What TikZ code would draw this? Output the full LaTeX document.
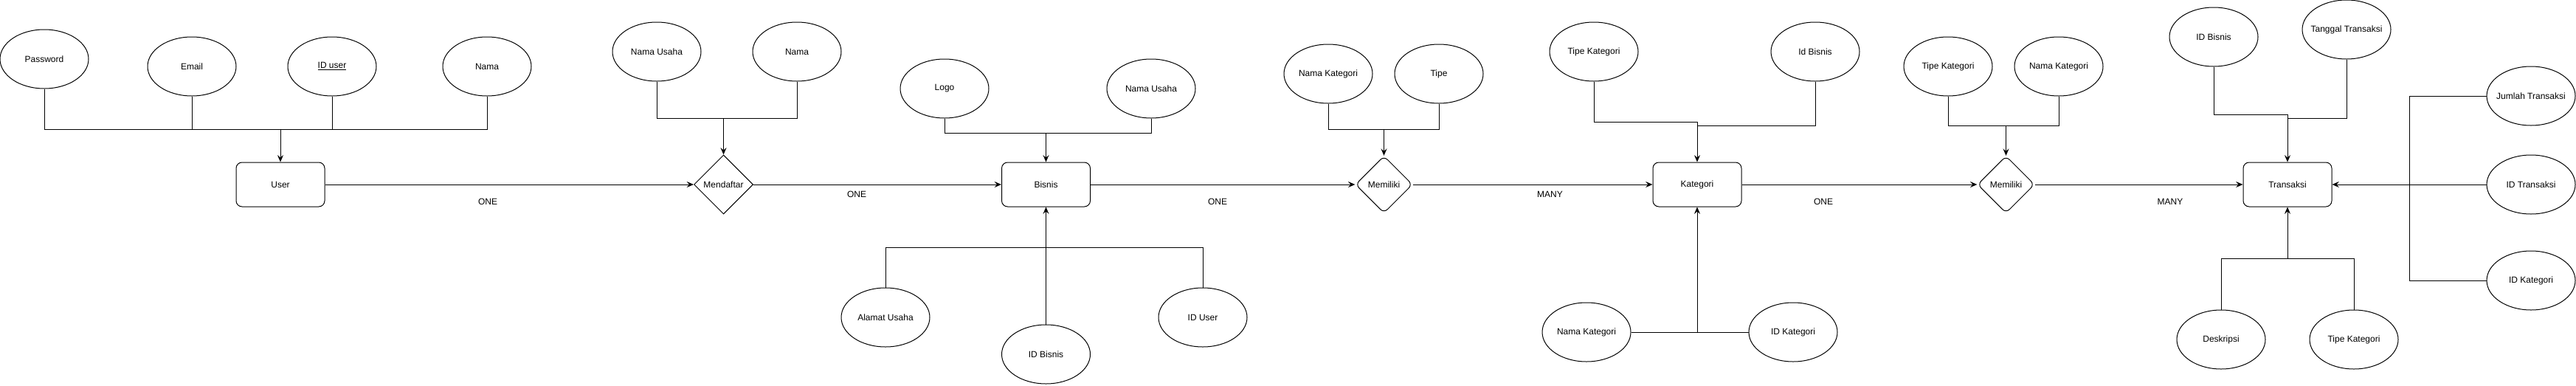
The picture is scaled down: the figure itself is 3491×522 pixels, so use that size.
\documentclass[tikz,border=0pt]{standalone}
\usepackage{fontspec}
\setmainfont{Liberation Sans}
\usetikzlibrary{shapes.geometric,arrows.meta}
\newcommand{\zt}[1]{\makebox[0pt][c]{#1}}
\begin{document}
\begin{tikzpicture}[x=0.75pt,y=-0.75pt,
  font=\fontsize{9}{11}\selectfont,
  every path/.style={line width=0.75pt},
  attr/.style={ellipse,draw,minimum width=90pt,minimum height=60pt,inner sep=0pt},
  ent/.style={rectangle,draw,rounded corners=6pt,minimum width=90pt,minimum height=45pt,inner sep=0pt},
  rel/.style={diamond,draw,minimum width=60pt,minimum height=60pt,inner sep=0pt},
  relr/.style={diamond,draw,rounded corners=5pt,minimum width=58pt,minimum height=58pt,inner sep=0pt},
  arr/.style={-{Stealth[length=7pt,width=6pt,inset=2.5pt]}},
  lbl/.style={inner sep=0pt}]
\useasboundingbox (0,0) rectangle (3491,522);
% entities
\node[ent] (user) at (380,250) {\zt{User}};
\node[ent] (bisnis) at (1417.5,250) {\zt{Bisnis}};
\node[ent] (kategori) at (2300,250) {\zt{Kategori}};
\node[ent] (transaksi) at (3100,250) {\zt{Transaksi}};
% relations
\node[rel] (mendaftar) at (980.5,250) {\zt{Mendaftar}};
\node[relr] (mem1) at (1875.5,250) {\zt{Memiliki}};
\node[relr] (mem2) at (2718.5,250) {\zt{Memiliki}};
% attributes
\node[attr] (pw) at (60,80) {\zt{Password}};
\node[attr] (em) at (260,90) {\zt{Email}};
\node[attr] (idu) at (450,90) {\zt{\underline{ID user}}};
\node[attr] (nm) at (660,90) {\zt{Nama}};
\node[attr] (nu) at (890,70) {\zt{Nama Usaha}};
\node[attr] (nm2) at (1080,70) {\zt{Nama}};
\node[attr] (logo) at (1280,120) {\zt{Logo}};
\node[attr] (nu2) at (1560,120) {\zt{Nama Usaha}};
\node[attr] (al) at (1200,430) {\zt{Alamat Usaha}};
\node[attr] (idb) at (1417.5,480) {\zt{ID Bisnis}};
\node[attr] (idus) at (1630,430) {\zt{ID User}};
\node[attr] (nk1) at (1800,100) {\zt{Nama Kategori}};
\node[attr] (tp) at (1950,100) {\zt{Tipe}};
\node[attr] (tk) at (2160,70) {\zt{Tipe Kategori}};
\node[attr] (idbs) at (2460,70) {\zt{Id Bisnis}};
\node[attr] (nk2) at (2150,450) {\zt{Nama Kategori}};
\node[attr] (idk) at (2430,450) {\zt{ID Kategori}};
\node[attr] (tk2) at (2640,90) {\zt{Tipe Kategori}};
\node[attr] (nk3) at (2790,90) {\zt{Nama Kategori}};
\node[attr] (idb2) at (3000,50) {\zt{ID Bisnis}};
\node[attr] (tgl) at (3180,40) {\zt{Tanggal Transaksi}};
\node[attr] (des) at (3010,460) {\zt{Deskripsi}};
\node[attr] (tk3) at (3190,460) {\zt{Tipe Kategori}};
\node[attr] (jt) at (3430,130) {\zt{Jumlah Transaksi}};
\node[attr] (idt) at (3430,250) {\zt{ID Transaksi}};
\node[attr] (idk2) at (3430,380) {\zt{ID Kategori}};
% junctions
\coordinate (jU) at (380,175);
\coordinate (jM) at (980.5,160);
\coordinate (jBt) at (1417.5,180);
\coordinate (jBb) at (1417.5,335);
\coordinate (jM1) at (1875.5,175);
\coordinate (jKt) at (2300,165);
\coordinate (jKt2) at (2300,170);
\coordinate (jKb) at (2300,450);
\coordinate (jM2) at (2718.5,170);
\coordinate (jTt) at (3100,155);
\coordinate (jTt2) at (3100,160);
\coordinate (jTb) at (3100,350);
\coordinate (jR1) at (3265.5,130);
\coordinate (jR2) at (3265.5,380);
% user attributes
\draw (pw.south) |- (jU);
\draw (em.south) |- (jU);
\draw (idu.south) |- (jU);
\draw (nm.south) |- (jU);
\draw[arr] (jU) -- (user.north);
% mendaftar attributes
\draw (nu.south) |- (jM);
\draw (nm2.south) |- (jM);
\draw[arr] (jM) -- (mendaftar.north);
% bisnis attributes
\draw (logo.south) |- (jBt);
\draw (nu2.south) |- (jBt);
\draw[arr] (jBt) -- (bisnis.north);
\draw (al.north) |- (jBb);
\draw (idus.north) |- (jBb);
\draw[arr] (idb.north) -- (bisnis.south);
% memiliki 1 attributes
\draw (nk1.south) |- (jM1);
\draw (tp.south) |- (jM1);
\draw[arr] (jM1) -- (mem1.north);
% kategori attributes
\draw (tk.south) |- (jKt);
\draw (idbs.south) |- (jKt2);
\draw[arr] (jKt) -- (kategori.north);
\draw (nk2.east) -- (idk.west);
\draw[arr] (jKb) -- (kategori.south);
% memiliki 2 attributes
\draw (tk2.south) |- (jM2);
\draw (nk3.south) |- (jM2);
\draw[arr] (jM2) -- (mem2.north);
% transaksi attributes
\draw (idb2.south) |- (jTt);
\draw (tgl.south) |- (jTt2);
\draw[arr] (jTt) -- (transaksi.north);
\draw (des.north) |- (jTb);
\draw (tk3.north) |- (jTb);
\draw[arr] (jTb) -- (transaksi.south);
\draw (jt.west) -- (jR1) -- (jR2) -- (idk2.west);
\draw[arr] (idt.west) -- (transaksi.east);
% main chain
\draw[arr] (user.east) -- (mendaftar.west);
\draw[arr] (mendaftar.east) -- (bisnis.west);
\draw[arr] (bisnis.east) -- (mem1.west);
\draw[arr] (mem1.east) -- (kategori.west);
\draw[arr] (kategori.east) -- (mem2.west);
\draw[arr] (mem2.east) -- (transaksi.west);
% cardinality labels
\node[lbl] (c1) at (661,273) {ONE};
\node[lbl] (c2) at (1161,263) {ONE};
\node[lbl] (c3) at (1650,273) {ONE};
\node[lbl] (c4) at (2100.5,263) {MANY};
\node[lbl] (c5) at (2471,273) {ONE};
\node[lbl] (c6) at (2941,273) {MANY};
\end{tikzpicture}
\end{document}
